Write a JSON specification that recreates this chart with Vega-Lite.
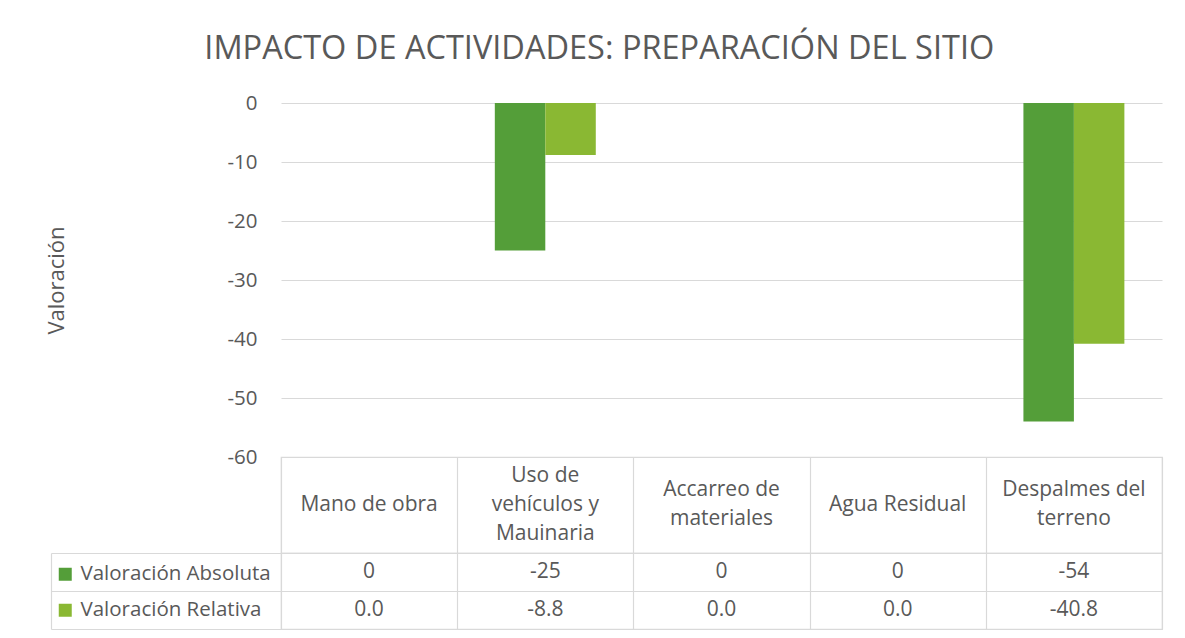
{
  "$schema": "https://vega.github.io/schema/vega-lite/v6.json",
  "background": "white",
  "padding": {"left": 45, "top": 32, "right": 22, "bottom": 9},
  "bounds": "flush",
  "config": {
    "font": "Open Sans",
    "locale": {"number": {"decimal": ".", "thousands": ",", "grouping": [3], "currency": ["$", ""], "minus": "-"}},
    "view": {"stroke": null},
    "concat": {"spacing": 0},
    "axis": {"minExtent": 0}
  },
  "title": {
    "text": "IMPACTO DE ACTIVIDADES: PREPARACIÓN DEL SITIO",
    "fontSize": 32.5,
    "fontWeight": "normal",
    "color": "#595959",
    "anchor": "middle",
    "offset": 28,
    "dx": -5
  },
  "datasets": {
    "valores": [
      {"actividad": "Mano de obra", "serie": "Valoración Absoluta", "valor": 0},
      {"actividad": "Mano de obra", "serie": "Valoración Relativa", "valor": 0.0},
      {"actividad": "Uso de vehículos y Mauinaria", "serie": "Valoración Absoluta", "valor": -25},
      {"actividad": "Uso de vehículos y Mauinaria", "serie": "Valoración Relativa", "valor": -8.8},
      {"actividad": "Accarreo de materiales", "serie": "Valoración Absoluta", "valor": 0},
      {"actividad": "Accarreo de materiales", "serie": "Valoración Relativa", "valor": 0.0},
      {"actividad": "Agua Residual", "serie": "Valoración Absoluta", "valor": 0},
      {"actividad": "Agua Residual", "serie": "Valoración Relativa", "valor": 0.0},
      {"actividad": "Despalmes del terreno", "serie": "Valoración Absoluta", "valor": -54},
      {"actividad": "Despalmes del terreno", "serie": "Valoración Relativa", "valor": -40.8}
    ],
    "actividades": [
      {"actividad": "Mano de obra", "etiqueta": "Mano de obra"},
      {"actividad": "Uso de vehículos y Mauinaria", "etiqueta": "Uso de|vehículos y|Mauinaria"},
      {"actividad": "Accarreo de materiales", "etiqueta": "Accarreo de|materiales"},
      {"actividad": "Agua Residual", "etiqueta": "Agua Residual"},
      {"actividad": "Despalmes del terreno", "etiqueta": "Despalmes del|terreno"}
    ]
  },
  "resolve": {"scale": {"color": "independent"}},
  "vconcat": [
    {
      "width": 881,
      "height": 354,
      "data": {"name": "valores"},
      "mark": {"type": "bar"},
      "encoding": {
        "x": {
          "field": "actividad",
          "type": "nominal",
          "sort": ["Mano de obra", "Uso de vehículos y Mauinaria", "Accarreo de materiales", "Agua Residual", "Despalmes del terreno"],
          "scale": {"paddingInner": 0.427, "paddingOuter": 0.2135},
          "axis": null
        },
        "xOffset": {
          "field": "serie",
          "type": "nominal",
          "sort": ["Valoración Absoluta", "Valoración Relativa"],
          "scale": {"paddingInner": 0, "paddingOuter": 0}
        },
        "y": {
          "field": "valor",
          "type": "quantitative",
          "scale": {"domain": [-60, 0], "nice": false},
          "axis": {
            "values": [-60, -50, -40, -30, -20, -10, 0],
            "title": "Valoración",
            "titleFontSize": 22,
            "titleFontWeight": "normal",
            "titleColor": "#595959",
            "titlePadding": 158,
            "labelFontSize": 20.5,
            "labelColor": "#595959",
            "labelPadding": 24,
            "ticks": false,
            "domain": false,
            "grid": true,
            "gridColor": "#d9d9d9",
            "gridWidth": 1.2
          }
        },
        "color": {
          "field": "serie",
          "type": "nominal",
          "scale": {"domain": ["Valoración Absoluta", "Valoración Relativa"], "range": ["#549E39", "#8AB833"]},
          "legend": null
        }
      }
    },
    {
      "width": 881,
      "height": 96,
      "view": {"stroke": "#d9d9d9", "strokeWidth": 1.2},
      "data": {"name": "actividades"},
      "transform": [{"calculate": "length(split(datum.etiqueta, '|'))", "as": "lineas"}],
      "mark": {"type": "text", "lineBreak": "|", "fontSize": 21, "color": "#595959", "lineHeight": 29, "baseline": "middle"},
      "encoding": {
        "x": {
          "field": "actividad",
          "type": "nominal",
          "sort": ["Mano de obra", "Uso de vehículos y Mauinaria", "Accarreo de materiales", "Agua Residual", "Despalmes del terreno"],
          "scale": {"paddingInner": 0, "paddingOuter": 0},
          "axis": {"orient": "top", "grid": true, "tickBand": "extent", "labels": false, "ticks": false, "domain": false, "title": null, "gridColor": "#d9d9d9", "gridWidth": 1.2}
        },
        "y": {
          "field": "lineas",
          "type": "quantitative",
          "scale": {"domain": [-2.3103, 4.3103], "nice": false, "zero": false},
          "axis": null
        },
        "text": {"field": "etiqueta", "type": "nominal"}
      }
    },
    {
      "width": 881,
      "height": 76,
      "view": {"stroke": "#d9d9d9", "strokeWidth": 1.2},
      "data": {"name": "valores"},
      "encoding": {
        "x": {
          "field": "actividad",
          "type": "nominal",
          "sort": ["Mano de obra", "Uso de vehículos y Mauinaria", "Accarreo de materiales", "Agua Residual", "Despalmes del terreno"],
          "scale": {"paddingInner": 0, "paddingOuter": 0},
          "axis": {"orient": "top", "grid": true, "tickBand": "extent", "labels": false, "ticks": false, "domain": false, "title": null, "gridColor": "#d9d9d9", "gridWidth": 1.2}
        },
        "y": {
          "field": "serie",
          "type": "nominal",
          "sort": ["Valoración Absoluta", "Valoración Relativa"],
          "scale": {"paddingInner": 0, "paddingOuter": 0},
          "axis": {
            "orient": "left",
            "title": null,
            "labels": false,
            "tickBand": "extent",
            "ticks": true,
            "tickSize": -230,
            "tickColor": "#d9d9d9",
            "tickWidth": 1.2,
            "offset": 230,
            "domain": true,
            "domainColor": "#d9d9d9",
            "domainWidth": 1.2,
            "grid": true,
            "gridColor": "#d9d9d9",
            "gridWidth": 1.2
          }
        }
      },
      "layer": [
        {
          "transform": [{"filter": "datum.serie === 'Valoración Absoluta'"}],
          "mark": {"type": "text", "fontSize": 21, "color": "#595959"},
          "encoding": {"text": {"field": "valor", "type": "quantitative", "format": "d"}}
        },
        {
          "transform": [{"filter": "datum.serie === 'Valoración Relativa'"}],
          "mark": {"type": "text", "fontSize": 21, "color": "#595959"},
          "encoding": {"text": {"field": "valor", "type": "quantitative", "format": ".1f"}}
        },
        {
          "mark": {"type": "point", "filled": true, "opacity": 0, "shape": "square"},
          "encoding": {
            "color": {
              "field": "serie",
              "type": "nominal",
              "scale": {"domain": ["Valoración Absoluta", "Valoración Relativa"], "range": ["#549E39", "#8AB833"]},
              "legend": {
                "orient": "none",
                "legendX": -226,
                "legendY": 11,
                "title": null,
                "symbolType": "square",
                "symbolSize": 169,
                "symbolOpacity": 1,
                "symbolStrokeWidth": 0,
                "labelFontSize": 20.5,
                "labelColor": "#595959",
                "labelOffset": 5,
                "labelLimit": 300,
                "rowPadding": 15,
                "padding": 0
              }
            }
          }
        }
      ]
    }
  ]
}
